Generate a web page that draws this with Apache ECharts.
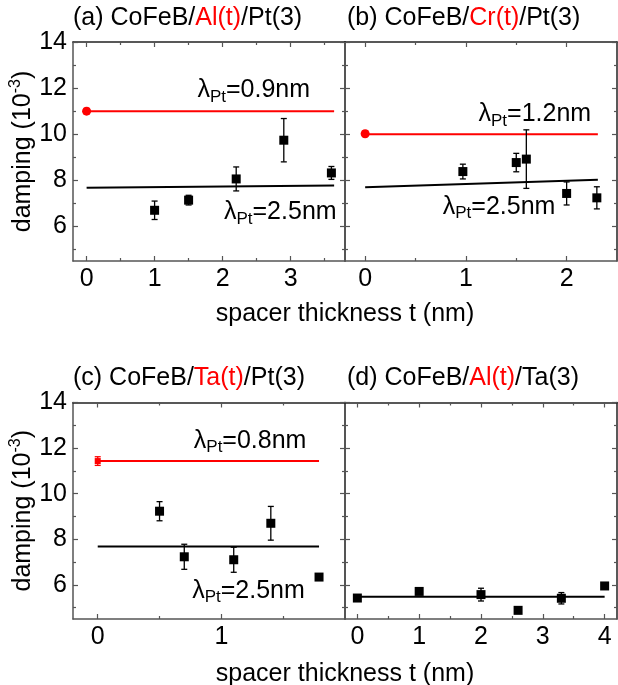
<!DOCTYPE html>
<html><head><meta charset="utf-8">
<script src="https://cdn.jsdelivr.net/npm/echarts@6/dist/echarts.min.js"></script>
<style>html,body{margin:0;padding:0;background:#fff}#c{width:618px;height:685px}</style>
</head><body><div id="c"></div>
<script>
// ---------- data ----------
const titlesBlack1 = ['(a) CoFeB/', '(b) CoFeB/', '(c) CoFeB/', '(d) CoFeB/'];
const titlesRed = ['Al(t)', 'Cr(t)', 'Ta(t)', 'Al(t)'];
const titlesBlack2 = ['/Pt(3)', '/Pt(3)', '/Pt(3)', '/Ta(3)'];

const xRangeA = [-0.2, 3.8], xRangeB = [-0.2, 2.5], xRangeC = [-0.2, 2.0], xRangeD = [-0.2, 4.2];
const yRange = [4.5, 14];
const xMajorA = [0, 1, 2, 3], xMinorA = [0.5, 1.5, 2.5, 3.5];
const xMajorB = [0, 1, 2], xMinorB = [0.5, 1.5];
const xMajorC = [0, 1], xMinorC = [0.5, 1.5];
const xMajorD = [0, 1, 2, 3, 4], xMinorD = [0.5, 1.5, 2.5, 3.5];
const yMajor = [6, 8, 10, 12, 14], yMinor = [5, 7, 9, 11, 13];

// points: [t, damping, error]
const pointsA = [[1.0, 6.70, 0.40], [1.5, 7.14, 0.21], [2.2, 8.06, 0.52], [2.9, 9.74, 0.94], [3.6, 8.32, 0.28]];
const refA = [[0, 11.0, 0.12]];
const pointsB = [[0.97, 8.38, 0.32], [1.5, 8.77, 0.40], [1.6, 8.92, 1.27], [2.0, 7.43, 0.50], [2.3, 7.24, 0.48]];
const refB = [[0, 10.02, 0.12]];
const pointsC = [[0.5, 9.23, 0.42], [0.7, 7.23, 0.55], [1.1, 7.10, 0.55], [1.4, 8.70, 0.74], [1.79, 6.34, 0.10]];
const refC = [[0, 11.43, 0.19]];
const pointsD = [[0, 5.42, 0.08], [1.0, 5.71, 0.08], [2.0, 5.57, 0.28], [2.6, 4.88, 0.08], [3.3, 5.41, 0.25], [4.0, 5.95, 0.08]];

// model curves
const fitA = [[0, 7.68], [3.64, 7.78]], redA = [[0, 11.0], [3.64, 11.0]];
const fitB = [[0, 7.70], [2.31, 8.02]], redB = [[0, 10.0], [2.31, 10.0]];
const fitC = [[0, 7.68], [1.79, 7.68]], redC = [[0, 11.43], [1.79, 11.43]];
const fitD = [[0, 5.48], [4.0, 5.48]];

// annotations: [t, damping, value]
const lambdaA = [[1.63, 11.9, '0.9'], [2.02, 6.6, '2.5']];
const lambdaB = [[1.125, 10.86, '1.2'], [0.77, 6.85, '2.5']];
const lambdaC = [[0.777, 12.3, '0.8'], [0.764, 5.72, '2.5']];

const xAxisName = 'spacer thickness t (nm)';
const yAxisName = 'damping (10';

// ---------- build ----------
const FONT = '"Liberation Sans", Arial, sans-serif';
const AX = '#555';
const TXT = '#000';
const grids = [
  {left: 73, top: 42, width: 272, height: 219},
  {left: 345, top: 42, width: 272, height: 219},
  {left: 73, top: 402.5, width: 272, height: 216.5},
  {left: 345, top: 402.5, width: 272, height: 216.5}
];
const xAxes = [], yAxes = [], series = [];
const mainX = [], mainY = [];

function addAxes(gi, xr, xMaj, xMin, showY) {
  const common = {gridIndex: gi, type: 'value', splitLine: {show: false}};
  mainX[gi] = xAxes.length;
  xAxes.push(Object.assign({}, common, {min: xr[0], max: xr[1], position: 'bottom',
    axisLine: {show: true, onZero: false, lineStyle: {color: AX, width: 1.5}},
    axisTick: {inside: true, length: 5, customValues: xMaj, lineStyle: {color: AX, width: 1.2}},
    axisLabel: {customValues: xMaj, fontSize: 25, fontFamily: FONT, color: TXT, margin: 6}}));
  xAxes.push(Object.assign({}, common, {min: xr[0], max: xr[1], position: 'bottom',
    axisLine: {show: false, onZero: false},
    axisTick: {inside: true, length: 3, customValues: xMin, lineStyle: {color: AX, width: 1.2}},
    axisLabel: {show: false}}));
  xAxes.push(Object.assign({}, common, {min: xr[0], max: xr[1], position: 'top',
    axisLine: {show: true, onZero: false, lineStyle: {color: '#222', width: 1.5}},
    axisTick: {inside: true, length: 5, customValues: xMaj, lineStyle: {color: AX, width: 1.2}},
    axisLabel: {show: false}}));
  xAxes.push(Object.assign({}, common, {min: xr[0], max: xr[1], position: 'top',
    axisLine: {show: false, onZero: false},
    axisTick: {inside: true, length: 3, customValues: xMin, lineStyle: {color: AX, width: 1.2}},
    axisLabel: {show: false}}));

  mainY[gi] = yAxes.length;
  yAxes.push(Object.assign({}, common, {min: yRange[0], max: yRange[1], position: 'left',
    axisLine: {show: true, onZero: false, lineStyle: {color: AX, width: 1.5}},
    axisTick: {inside: true, length: 5, customValues: yMajor, lineStyle: {color: AX, width: 1.2}},
    axisLabel: {show: showY, customValues: yMajor, fontSize: 25, fontFamily: FONT, color: TXT, margin: 6},
    name: showY ? '{n|' + yAxisName + '}{p|-3}{n|)}' : '',
    nameLocation: 'middle', nameGap: 25,
    nameTextStyle: {fontFamily: FONT, color: TXT, rich: {
      n: {fontSize: 25, fontFamily: FONT, color: TXT, lineHeight: 30},
      p: {fontSize: 16, fontFamily: FONT, color: TXT, lineHeight: 14, verticalAlign: 'top'}}}}));
  yAxes.push(Object.assign({}, common, {min: yRange[0], max: yRange[1], position: 'left',
    axisLine: {show: false, onZero: false},
    axisTick: {inside: true, length: 3, customValues: yMinor, lineStyle: {color: AX, width: 1.2}},
    axisLabel: {show: false}}));
  yAxes.push(Object.assign({}, common, {min: yRange[0], max: yRange[1], position: 'right',
    axisLine: {show: true, onZero: false, lineStyle: {color: '#222', width: 1.5}},
    axisTick: {inside: true, length: 5, customValues: yMajor, lineStyle: {color: AX, width: 1.2}},
    axisLabel: {show: false}}));
  yAxes.push(Object.assign({}, common, {min: yRange[0], max: yRange[1], position: 'right',
    axisLine: {show: false, onZero: false},
    axisTick: {inside: true, length: 3, customValues: yMinor, lineStyle: {color: AX, width: 1.2}},
    axisLabel: {show: false}}));
}
addAxes(0, xRangeA, xMajorA, xMinorA, true);
addAxes(1, xRangeB, xMajorB, xMinorB, false);
addAxes(2, xRangeC, xMajorC, xMinorC, true);
addAxes(3, xRangeD, xMajorD, xMinorD, false);

function errRender(color) {
  return function (params, api) {
    const x = api.value(0), y = api.value(1), e = api.value(2);
    const t = api.coord([x, y + e]), b = api.coord([x, y - e]);
    const hw = 3;
    const st = {stroke: color, lineWidth: 1.3};
    return {type: 'group', children: [
      {type: 'line', shape: {x1: t[0], y1: t[1], x2: b[0], y2: b[1]}, style: st},
      {type: 'line', shape: {x1: t[0] - hw, y1: t[1], x2: t[0] + hw, y2: t[1]}, style: st},
      {type: 'line', shape: {x1: b[0] - hw, y1: b[1], x2: b[0] + hw, y2: b[1]}, style: st}
    ]};
  };
}
function addLine(gi, data, color) {
  series.push({type: 'line', xAxisIndex: mainX[gi], yAxisIndex: mainY[gi], data: data,
    showSymbol: false, symbol: 'none', lineStyle: {color: color, width: 2}, silent: true, z: 2});
}
function addPoints(gi, data, color, symbol, size) {
  series.push({type: 'custom', xAxisIndex: mainX[gi], yAxisIndex: mainY[gi], data: data,
    renderItem: errRender(color), encode: {x: 0, y: 1}, silent: true, z: 3});
  series.push({type: 'scatter', xAxisIndex: mainX[gi], yAxisIndex: mainY[gi],
    data: data.map(d => [d[0], d[1]]), symbol: symbol, symbolSize: size,
    itemStyle: {color: color, opacity: 1}, silent: true, z: 4});
}
function addLambda(gi, data) {
  series.push({type: 'scatter', xAxisIndex: mainX[gi], yAxisIndex: mainY[gi],
    data: data.map(d => ({value: [d[0], d[1]], name: d[2]})), symbolSize: 0, silent: true, z: 5,
    itemStyle: {color: TXT, opacity: 1},
    label: {show: true, position: 'right', distance: 0, color: TXT, opacity: 1, textBorderWidth: 0,
      formatter: p => '{l|λ}{s|Pt}{l|=' + p.name + 'nm}',
      rich: {
        l: {fontSize: 25, fontFamily: FONT, color: TXT, lineHeight: 30},
        s: {fontSize: 17, fontFamily: FONT, color: TXT, lineHeight: 10, verticalAlign: 'bottom'}
      }}});
}

addLine(0, redA, '#ff0000'); addLine(0, fitA, '#000');
addPoints(0, pointsA, '#000', 'rect', 9); addPoints(0, refA, '#ff0000', 'circle', 9);
addLambda(0, lambdaA);
addLine(1, redB, '#ff0000'); addLine(1, fitB, '#000');
addPoints(1, pointsB, '#000', 'rect', 9); addPoints(1, refB, '#ff0000', 'circle', 9);
addLambda(1, lambdaB);
addLine(2, redC, '#ff0000'); addLine(2, fitC, '#000');
addPoints(2, pointsC, '#000', 'rect', 9); addPoints(2, refC, '#ff0000', 'rect', 6);
addLambda(2, lambdaC);
addLine(3, fitD, '#000');
addPoints(3, pointsD, '#000', 'rect', 9);

const titlePos = [[73, 6], [347, 6], [73, 366], [347, 366]];
const titles = titlePos.map((p, i) => ({
  text: '{k|' + titlesBlack1[i] + '}{r|' + titlesRed[i] + '}{k|' + titlesBlack2[i] + '}',
  left: p[0], top: p[1], padding: 0,
  textStyle: {fontSize: 25, fontWeight: 'normal', fontFamily: FONT, rich: {
    k: {fontSize: 25, fontFamily: FONT, color: TXT},
    r: {fontSize: 25, fontFamily: FONT, color: '#ff0000'}}}
}));

const chart = echarts.init(document.getElementById('c'), null, {renderer: 'canvas'});
chart.setOption({
  animation: false,
  backgroundColor: '#fff',
  title: titles,
  grid: grids,
  xAxis: xAxes,
  yAxis: yAxes,
  series: series,
  graphic: [
    {type: 'text', x: 345, y: 314, style: {text: xAxisName, font: '25px ' + FONT, fill: TXT, textAlign: 'center', textVerticalAlign: 'middle'}},
    {type: 'text', x: 345, y: 674, style: {text: xAxisName, font: '25px ' + FONT, fill: TXT, textAlign: 'center', textVerticalAlign: 'middle'}}
  ]
});
</script></body></html>
